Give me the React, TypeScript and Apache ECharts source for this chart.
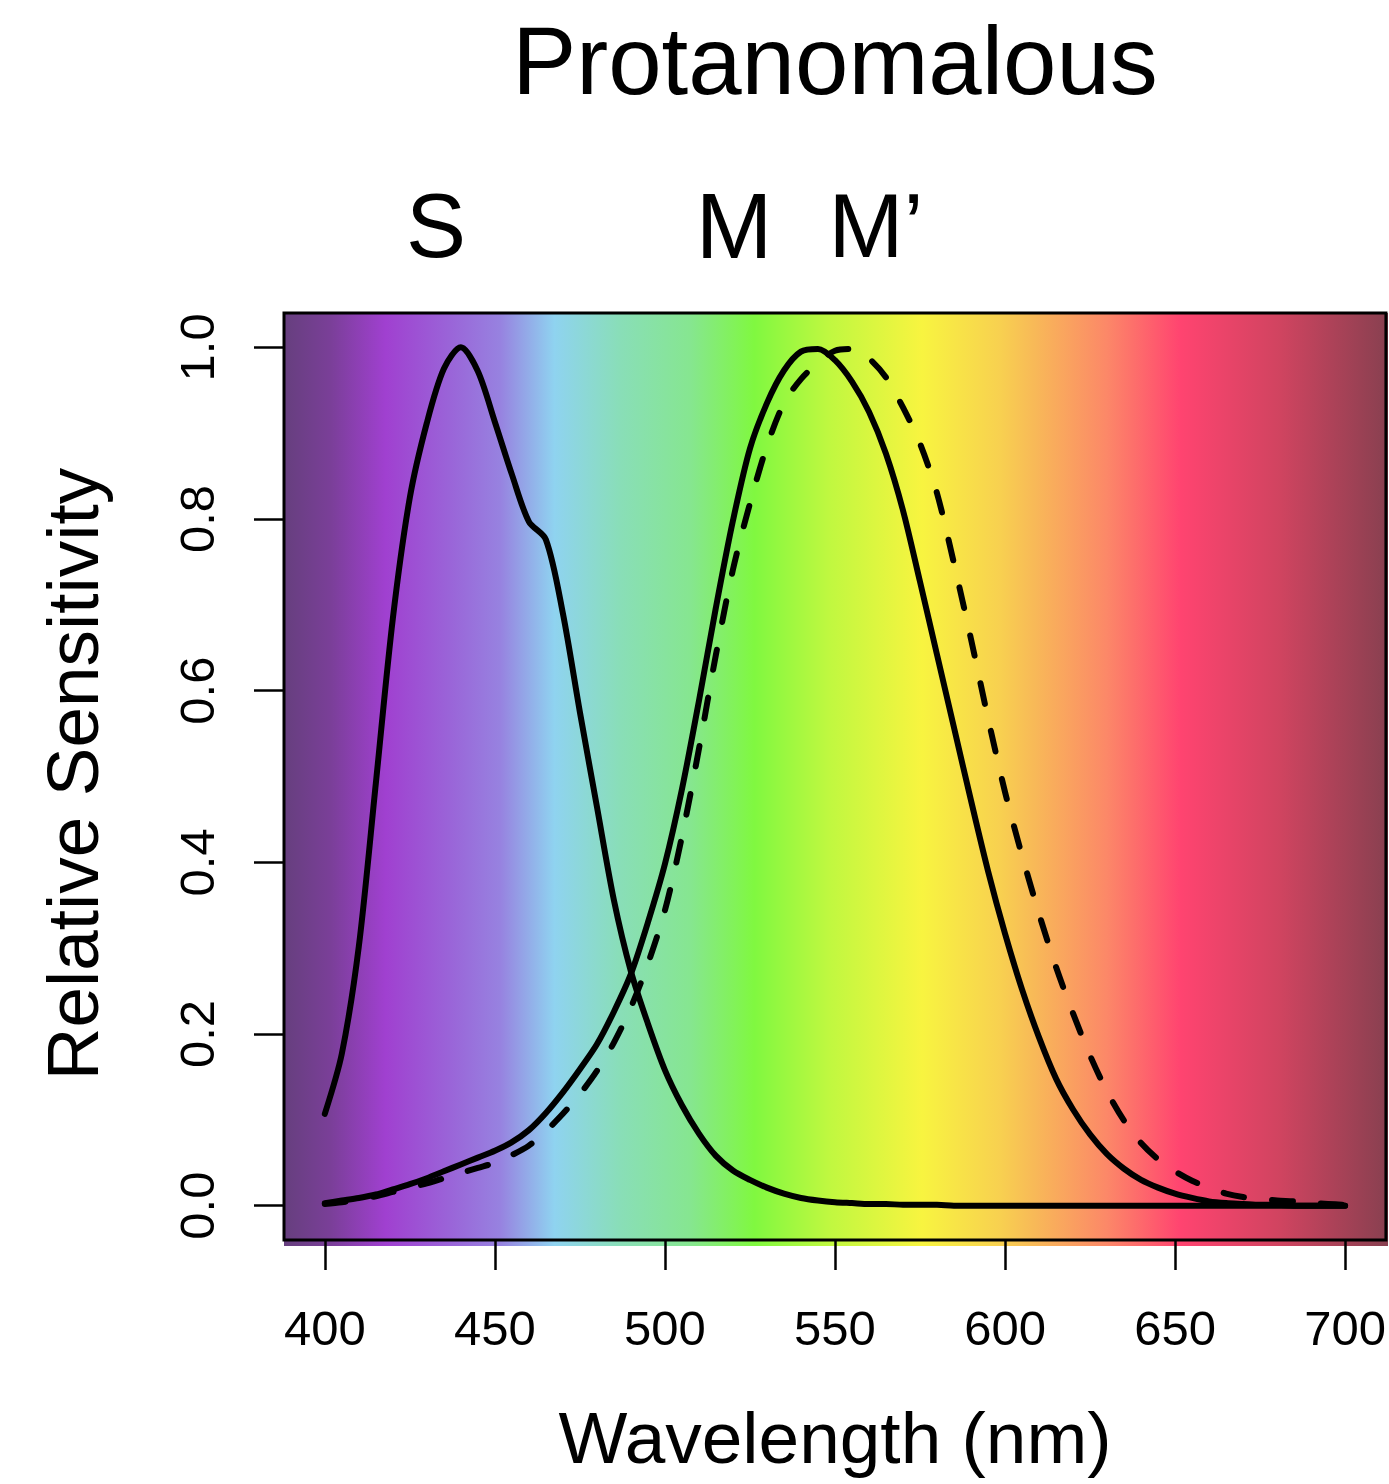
import React, { useEffect, useRef } from "react";
import * as echarts from "echarts";

const FONT = "'Liberation Sans', Arial, Helvetica, sans-serif";

// Wavelengths (nm), 400..700 every 5 nm
const wavelengths: number[] = [
  400, 405, 410, 415, 420, 425, 430, 435, 440, 445,
  450, 455, 460, 465, 470, 475, 480, 485, 490, 495,
  500, 505, 510, 515, 520, 525, 530, 535, 540, 545,
  550, 555, 560, 565, 570, 575, 580, 585, 590, 595,
  600, 605, 610, 615, 620, 625, 630, 635, 640, 645,
  650, 655, 660, 665, 670, 675, 680, 685, 690, 695, 700,
];

// S cone relative sensitivity
const sCone: number[] = [
  0.107, 0.177, 0.302, 0.492, 0.684, 0.825, 0.912, 0.975, 1.0, 0.972,
  0.913, 0.852, 0.797, 0.776, 0.69, 0.575, 0.465, 0.356, 0.273, 0.212,
  0.158, 0.117, 0.084, 0.058, 0.041, 0.030, 0.021, 0.014, 0.009, 0.006,
  0.004, 0.003, 0.002, 0.002, 0.001, 0.001, 0.001, 0.0, 0.0, 0.0,
  0.0, 0.0, 0.0, 0.0, 0.0, 0.0, 0.0, 0.0, 0.0, 0.0,
  0.0, 0.0, 0.0, 0.0, 0.0, 0.0, 0.0, 0.0, 0.0, 0.0, 0.0,
];

// M cone relative sensitivity
const mCone: number[] = [
  0.003, 0.006, 0.009, 0.013, 0.019, 0.025, 0.032, 0.04, 0.048, 0.056,
  0.064, 0.074, 0.088, 0.108, 0.132, 0.159, 0.188, 0.226, 0.27, 0.33,
  0.398, 0.485, 0.588, 0.697, 0.798, 0.882, 0.935, 0.973, 0.995, 0.998,
  0.985, 0.96, 0.925, 0.876, 0.81, 0.727, 0.642, 0.557, 0.472, 0.39,
  0.317, 0.252, 0.196, 0.148, 0.112, 0.083, 0.06, 0.043, 0.03, 0.021,
  0.014, 0.009, 0.005, 0.003, 0.002, 0.001, 0.001, 0.0, 0.0, 0.0, 0.0,
];

// M' (anomalous) cone relative sensitivity
const mPrimeCone: number[] = [
  0.002, 0.004, 0.007, 0.011, 0.016, 0.021, 0.026, 0.032, 0.038, 0.044,
  0.05, 0.059, 0.07, 0.087, 0.107, 0.13, 0.157, 0.19, 0.231, 0.282,
  0.344, 0.43, 0.532, 0.642, 0.741, 0.818, 0.885, 0.935, 0.963, 0.982,
  0.996, 0.998, 0.987, 0.965, 0.93, 0.888, 0.83, 0.748, 0.66, 0.568,
  0.482, 0.408, 0.34, 0.278, 0.224, 0.175, 0.133, 0.099, 0.073, 0.054,
  0.04, 0.029, 0.021, 0.014, 0.01, 0.008, 0.006, 0.005, 0.003, 0.002, 0.001,
];

const xTicks: number[] = [400, 450, 500, 550, 600, 650, 700];
const yTicks: number[] = [0, 0.2, 0.4, 0.6, 0.8, 1.0];

const titleText = "Protanomalous";
const xTitle = "Wavelength (nm)";
const yTitle = "Relative Sensitivity";
const coneLabels: string[] = ["S", "M", "M\u2019"];

// spectrum background colour stops (fraction across plot, colour)
const spectrumStops: [number, string][] = [
  [0.0, "#663f7e"],
  [0.042, "#7a3f98"],
  [0.092, "#a040d0"],
  [0.15, "#9a64d8"],
  [0.196, "#9782e0"],
  [0.245, "#8fd3f0"],
  [0.304, "#89deb8"],
  [0.368, "#86e690"],
  [0.426, "#80f840"],
  [0.494, "#c0f840"],
  [0.578, "#f8f440"],
  [0.649, "#f8d050"],
  [0.681, "#f8b858"],
  [0.745, "#fc8868"],
  [0.812, "#ff4470"],
  [0.902, "#d04460"],
  [1.0, "#884050"],
];

const pairs = (ys: number[]) => wavelengths.map((w, i) => [w, ys[i]]);

export default function App() {
  const ref = useRef<HTMLDivElement>(null);

  useEffect(() => {
    if (!ref.current) return;
    const chart = echarts.init(ref.current, null, { renderer: "svg" });

    const lineBase = {
      type: "line",
      showSymbol: false,
      symbol: "none",
      smooth: 0.3,
      silent: true,
      z: 3,
    };

    const option: any = {
      animation: false,
      backgroundColor: "#ffffff",
      grid: {
        left: 284,
        right: 1,
        top: 313,
        bottom: 244,
        show: true,
        borderColor: "#000",
        borderWidth: 3,
        backgroundColor: "transparent",
      },
      xAxis: {
        type: "value",
        min: 388,
        max: 712,
        axisLine: { show: false, onZero: false },
        splitLine: { show: false },
        axisTick: {
          show: true,
          inside: false,
          customValues: xTicks,
          length: 30,
          lineStyle: { color: "#000", width: 2.5 },
        },
        axisLabel: {
          customValues: xTicks,
          margin: 63,
          fontSize: 49,
          fontFamily: FONT,
          color: "#000",
          formatter: (v: number) => String(v),
        },
      },
      yAxis: {
        type: "value",
        min: -0.04,
        max: 1.04,
        axisLine: { show: false, onZero: false },
        splitLine: { show: false },
        axisTick: {
          show: true,
          inside: false,
          customValues: yTicks,
          length: 30,
          lineStyle: { color: "#000", width: 2.5 },
        },
        axisLabel: {
          customValues: yTicks,
          margin: 63,
          rotate: 90,
          fontSize: 49,
          fontFamily: FONT,
          color: "#000",
          formatter: (v: number) => v.toFixed(1),
        },
      },
      series: [
        {
          ...lineBase,
          name: "S",
          data: pairs(sCone),
          lineStyle: { color: "#000", width: 6, cap: "round", join: "round" },
        },
        {
          ...lineBase,
          name: "M",
          data: pairs(mCone),
          lineStyle: { color: "#000", width: 6, cap: "round", join: "round" },
        },
        {
          ...lineBase,
          name: "M'",
          data: pairs(mPrimeCone),
          lineStyle: {
            color: "#000",
            width: 6,
            type: [21, 28],
            cap: "round",
            join: "round",
          },
        },
      ],
      graphic: [
        {
          type: "rect",
          z: -10,
          silent: true,
          shape: { x: 284, y: 313, width: 1104, height: 933 },
          style: {
            fill: {
              type: "linear",
              x: 0,
              y: 0,
              x2: 1,
              y2: 0,
              colorStops: spectrumStops.map(([offset, color]) => ({ offset, color })),
            },
          },
        },
        {
          type: "text",
          x: 835,
          y: 60,
          style: {
            text: titleText,
            fontSize: 96,
            fontFamily: FONT,
            fill: "#000",
            align: "center",
            verticalAlign: "middle",
          },
        },
        {
          type: "text",
          x: 436,
          y: 226,
          style: { text: coneLabels[0], fontSize: 90, fontFamily: FONT, fill: "#000", align: "center", verticalAlign: "middle" },
        },
        {
          type: "text",
          x: 734,
          y: 226,
          style: { text: coneLabels[1], fontSize: 92, fontFamily: FONT, fill: "#000", align: "center", verticalAlign: "middle" },
        },
        {
          type: "text",
          x: 876,
          y: 226,
          style: { text: coneLabels[2], fontSize: 90, fontFamily: FONT, fill: "#000", align: "center", verticalAlign: "middle" },
        },
        {
          type: "text",
          x: 835,
          y: 1437,
          style: { text: xTitle, fontSize: 73, fontFamily: FONT, fill: "#000", align: "center", verticalAlign: "middle" },
        },
        {
          type: "text",
          x: 72,
          y: 774,
          rotation: Math.PI / 2,
          style: { text: yTitle, fontSize: 73, fontFamily: FONT, fill: "#000", align: "center", verticalAlign: "middle" },
        },
      ],
    };

    chart.setOption(option);
    return () => chart.dispose();
  }, []);

  return (
    <div
      ref={ref}
      style={{ position: "absolute", left: 0, top: 0, width: 1389, height: 1484 }}
    />
  );
}
